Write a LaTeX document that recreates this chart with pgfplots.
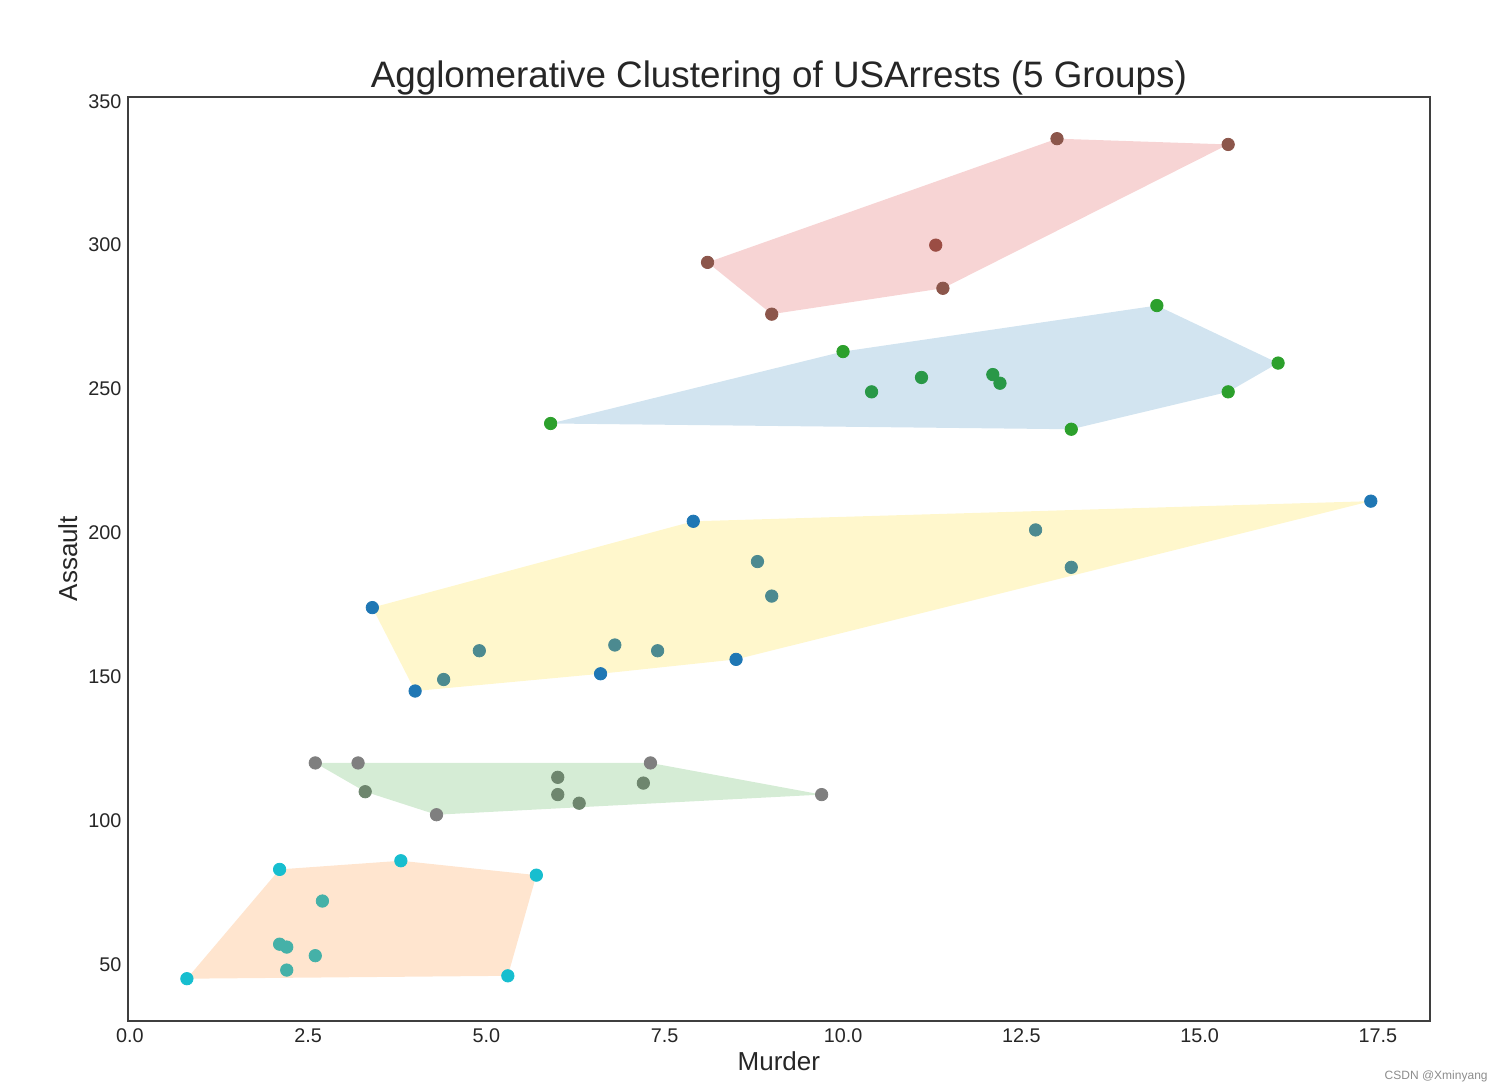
\documentclass[border=0pt]{standalone}
\usepackage{pgfplots}
\pgfplotsset{compat=1.18}
\usepackage{fontspec}
\setmainfont{Liberation Sans}
\definecolor{axisgray}{HTML}{3F3F3F}
\definecolor{txt}{HTML}{262626}
% hull fills (alpha 0.2 on white)
\definecolor{fillred}{RGB}{247,212,212}
\definecolor{fillblue}{RGB}{210,228,240}
\definecolor{fillgold}{RGB}{255,247,204}
\definecolor{fillgreen}{RGB}{213,236,213}
\definecolor{fillorange}{RGB}{255,229,207}
% point colours
\definecolor{cbrown}{RGB}{140,86,75}
\definecolor{cbrownin}{RGB}{155,77,68}
\definecolor{cgreen}{RGB}{44,160,44}
\definecolor{cgreenin}{RGB}{41,152,71}
\definecolor{cblue}{RGB}{31,119,180}
\definecolor{cbluein}{RGB}{76,138,144}
\definecolor{cgray}{RGB}{127,127,127}
\definecolor{cgrayin}{RGB}{110,134,110}
\definecolor{ccyan}{RGB}{23,190,207}
\definecolor{ccyanin}{RGB}{69,177,168}
\pgfplotsset{pts/.style={only marks, mark=*, mark size=3.1pt, color=#1}}
\begin{document}
\begin{tikzpicture}
\useasboundingbox (-63.85pt,-35.15pt) rectangle (687.15pt,510.35pt);
\begin{axis}[
  at={(0,0)}, anchor=south west,
  scale only axis, width=651.15pt, height=462pt,
  xmin=-0.03, xmax=18.23, ymin=30.4, ymax=351.6,
  xtick={0,2.5,5,7.5,10,12.5,15,17.5},
  xticklabels={0.0,2.5,5.0,7.5,10.0,12.5,15.0,17.5},
  ytick={50,100,150,200,250,300,350},
  major tick length=0pt,
  axis line style={axisgray, line width=1pt},
  /pgf/number format/assume math mode=true,
  tick label style={font=\fontsize{9.9}{11}\selectfont, text=txt},
  xticklabel style={anchor=base, inner sep=0pt, yshift=-11pt},
  yticklabel style={anchor=east, inner sep=0pt, xshift=-3pt},
  title={Agglomerative Clustering of USArrests (5 Groups)},
  title style={font=\fontsize{18.4}{22}\selectfont, text=txt, at={(axis description cs:0.5,1.0100)}, anchor=base, inner sep=0pt, yshift=-6pt},
  xlabel={Murder}, ylabel={Assault},
  xlabel style={font=\fontsize{13}{15}\selectfont, text=txt, at={(axis description cs:0.5,-0.0544)}, anchor=base, inner sep=0pt},
  ylabel style={font=\fontsize{13}{15}\selectfont, text=txt, at={(axis description cs:-0.0389,0.5)}, anchor=base, inner sep=0pt},
]
% ---- hulls ----
\addplot[fill=fillred, draw=none, forget plot] coordinates {(8.1,294) (13.0,337) (15.4,335) (11.4,285) (9.0,276)} -- cycle;
\addplot[fill=fillblue, draw=none, forget plot] coordinates {(5.9,238) (10.0,263) (14.4,279) (16.1,259) (15.4,249) (13.2,236)} -- cycle;
\addplot[fill=fillgold, draw=none, forget plot] coordinates {(3.4,174) (7.9,204) (17.4,211) (8.5,156) (6.6,151) (4.0,145)} -- cycle;
\addplot[fill=fillgreen, draw=none, forget plot] coordinates {(2.6,120) (3.3,110) (4.3,102) (9.7,109) (7.3,120)} -- cycle;
\addplot[fill=fillorange, draw=none, forget plot] coordinates {(0.8,45) (2.1,83) (3.8,86) (5.7,81) (5.3,46)} -- cycle;
% ---- points ----
\addplot[pts=cbrownin] coordinates {(11.3,300)};
\addplot[pts=cbrown] coordinates {(13.0,337) (15.4,335) (8.1,294) (11.4,285) (9.0,276)};
\addplot[pts=cgreenin] coordinates {(12.1,255) (11.1,254) (12.2,252) (10.4,249)};
\addplot[pts=cgreen] coordinates {(14.4,279) (10.0,263) (16.1,259) (15.4,249) (5.9,238) (13.2,236)};
\addplot[pts=cbluein] coordinates {(12.7,201) (8.8,190) (13.2,188) (9.0,178) (6.8,161) (7.4,159) (4.9,159) (4.4,149)};
\addplot[pts=cblue] coordinates {(17.4,211) (7.9,204) (3.4,174) (8.5,156) (6.6,151) (4.0,145)};
\addplot[pts=cgrayin] coordinates {(6.0,115) (7.2,113) (3.3,110) (6.0,109) (6.3,106)};
\addplot[pts=cgray] coordinates {(2.6,120) (3.2,120) (7.3,120) (9.7,109) (4.3,102)};
\addplot[pts=ccyanin] coordinates {(2.7,72) (2.1,57) (2.2,56) (2.6,53) (2.2,48)};
\addplot[pts=ccyan] coordinates {(3.8,86) (2.1,83) (5.7,81) (5.3,46) (0.8,45)};
\end{axis}
\node[anchor=base east, inner sep=0pt, font=\fontsize{6}{7}\selectfont, text=black!45] at (680.15pt,-29.15pt) {CSDN @Xminyang};
\end{tikzpicture}
\end{document}
